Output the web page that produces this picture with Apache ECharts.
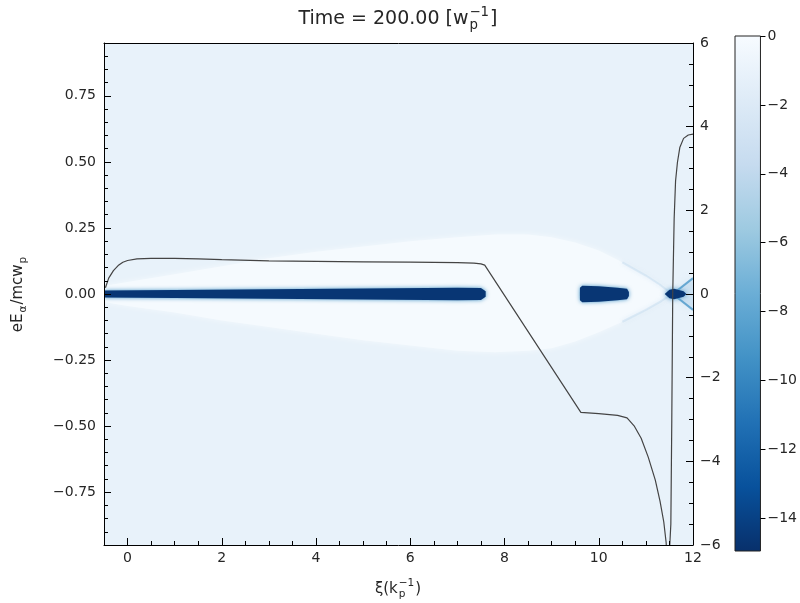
<!DOCTYPE html>
<html><head><meta charset="utf-8">
<script src="https://cdn.jsdelivr.net/npm/echarts@6/dist/echarts.min.js"></script>
<style>html,body{margin:0;padding:0;background:#fff}#c{width:800px;height:603px}</style>
</head><body><div id="c"></div>
<script>
// ---------------- data ----------------
const xTicks = [0, 2, 4, 6, 8, 10, 12];
const xMinorTicks = [0.5,1,1.5,2.5,3,3.5,4.5,5,5.5,6.5,7,7.5,8.5,9,9.5,10.5,11,11.5];
const yLeftTicks = [-0.75,-0.5,-0.25,0,0.25,0.5,0.75];
const yLeftMinor = [-0.9,-0.85,-0.8,-0.7,-0.65,-0.6,-0.55,-0.45,-0.4,-0.35,-0.3,-0.2,-0.15,-0.1,-0.05,0.05,0.1,0.15,0.2,0.3,0.35,0.4,0.45,0.55,0.6,0.65,0.7,0.8,0.85,0.9];
const yRightTicks = [-6,-4,-2,0,2,4,6];
const yRightMinor = [-5.5,-5,-4.5,-3.5,-3,-2.5,-1.5,-1,-0.5,0.5,1,1.5,2.5,3,3.5,4.5,5,5.5];
const cbarTicks = [0,-2,-4,-6,-8,-10,-12,-14];
const xRange = [-0.5, 12];
const yRange = [-0.95, 0.95];
const yRightRange = [-6, 6];
const cRange = [-14.95, 0];

// log-density levels of the phase-space map
const levelBackground = -1.1;
const levelBubble = -0.15;
const levelBeam = -14.6;
const levelArm = -9;
const levelFan = -4;

// bubble (cavity) boundary
const bubbleXi     = [-0.5, 0, 1, 2, 3, 4, 5, 6, 7, 7.8, 8.5, 9, 9.5, 10, 10.5, 11, 11.3, 11.55];
const bubbleTop    = [0.03, 0.045, 0.075, 0.105, 0.135, 0.16, 0.18, 0.2, 0.215, 0.225, 0.225, 0.215, 0.195, 0.165, 0.12, 0.07, 0.035, 0];
const bubbleBottom = [-0.03, -0.045, -0.07, -0.1, -0.125, -0.15, -0.175, -0.195, -0.215, -0.22, -0.215, -0.205, -0.18, -0.145, -0.105, -0.06, -0.03, 0];

// drive beam
const beamXi   = [-0.5, 1, 3, 5, 7, 7.5, 7.6];
const beamHalf = [0.013, 0.015, 0.018, 0.021, 0.024, 0.023, 0.01];
// trailing bunch
const bunchXi   = [9.6, 9.65, 10.0, 10.4, 10.6, 10.64];
const bunchHalf = [0.024, 0.031, 0.029, 0.024, 0.02, 0.008];
// crossing point at the rear of the bubble
const crossXi   = [11.4, 11.5, 11.6, 11.8, 11.86];
const crossHalf = [0.0, 0.016, 0.02, 0.01, 0.0];
const fanXi    = [11.57, 12];
const fanUpper = [0, 0.06];
const fanLower = [0, -0.06];

// on-axis field (right axis)
const lineXi  = [-0.47,-0.4,-0.3,-0.2,-0.1,0,0.2,0.5,1,1.5,2,3,4,5,6,7,7.35,7.5,7.58,9.62,10,10.4,10.6,10.75,10.9,11.05,11.2,11.3,11.38,11.43,11.47,11.51,11.53,11.55,11.57,11.6,11.63,11.67,11.72,11.8,11.9,12];
const lineVal = [0.15,0.38,0.56,0.68,0.76,0.8,0.84,0.85,0.85,0.84,0.82,0.79,0.78,0.77,0.76,0.75,0.74,0.72,0.69,-2.83,-2.86,-2.9,-2.96,-3.15,-3.45,-3.9,-4.45,-4.95,-5.45,-5.94,-6.8,-6.8,-5.5,-3.0,0.0,1.8,2.7,3.15,3.5,3.72,3.8,3.82];

// ---------------- helpers ----------------
const FONT = '"DejaVu Sans", Verdana, sans-serif';
const bluesStops = ['#f7fbff','#deebf7','#c6dbef','#9ecae1','#6baed6','#4292c6','#2171b5','#08519c','#08306b'];
function hex2rgb(h){return [1,3,5].map(i=>parseInt(h.substr(i,2),16));}
function cmap(v, a){
  let t = Math.min(1, Math.max(0, v / cRange[0]));
  const n = bluesStops.length - 1;
  const i = Math.min(n - 1, Math.floor(t * n));
  const f = t * n - i;
  const p = hex2rgb(bluesStops[i]), q = hex2rgb(bluesStops[i + 1]);
  const c = p.map((c0, k) => Math.round(c0 + (q[k] - c0) * f));
  return a === undefined ? 'rgb(' + c.join(',') + ')' : 'rgba(' + c.join(',') + ',' + a + ')';
}
const minus = v => (v < 0 ? '\u2212' : '') + Math.abs(v);
const ctx = document.createElement('canvas').getContext('2d');
function tw(t, s){ ctx.font = s + 'px ' + FONT; return ctx.measureText(t).width; }
function txt(t, x, y, s){ return {type:'text', x:x, y:y, style:{text:t, fontSize:s, fontFamily:FONT, fill:'#262626', align:'left', verticalAlign:'middle'}}; }
function mathLabel(parts, fs){
  const ch = []; let x = 0; const sm = fs * 0.7;
  parts.forEach(p => {
    if (p.t) { ch.push(txt(p.t, x, 0, fs)); x += tw(p.t, fs); }
    if (p.sub || p.sup) {
      let w = 0;
      if (p.sub) { ch.push(txt(p.sub, x + 1, fs * 0.32, sm)); w = Math.max(w, tw(p.sub, sm) + 1); }
      if (p.sup) { ch.push(txt(p.sup, x + 1, -fs * 0.36, sm)); w = Math.max(w, tw(p.sup, sm) + 1); }
      x += w + 1;
    }
  });
  ch.forEach(c => c.x -= x / 2);
  return ch;
}
function bandPoints(api, xs, up, lo){
  const pts = [];
  xs.forEach((x, i) => pts.push(api.coord([x, up[i]])));
  for (let i = xs.length - 1; i >= 0; i--) pts.push(api.coord([xs[i], lo[i]]));
  return pts;
}
const neg = arr => arr.map(v => -v);

// ---------------- chart ----------------
const chart = echarts.init(document.getElementById('c'));
const cbGradient = new echarts.graphic.LinearGradient(0, 0, 0, 1,
  bluesStops.map((c, i) => ({offset: i / (bluesStops.length - 1), color: c})));

const tickLine = {color:'#000', width:1};
const option = {
  animation: false,
  backgroundColor: '#fff',
  grid: [
    {left:104, top:43, width:589, height:502, show:true, backgroundColor:cmap(levelBackground), borderWidth:0},
    {left:735, top:36, width:26, height:515, show:true, backgroundColor:cbGradient, borderColor:'#222', borderWidth:1}
  ],
  xAxis: [
    {type:'value', gridIndex:0, position:'bottom', min:xRange[0], max:xRange[1], z:10,
     axisLine:{show:true, onZero:false, lineStyle:tickLine},
     axisTick:{show:true, inside:true, length:7, customValues:xTicks, lineStyle:tickLine},
     axisLabel:{show:true, customValues:xTicks, margin:6, fontSize:14, fontFamily:FONT, color:'#262626'},
     splitLine:{show:false}},
    {type:'value', gridIndex:0, position:'bottom', min:xRange[0], max:xRange[1], z:10,
     axisLine:{show:false, onZero:false},
     axisTick:{show:true, inside:true, length:4, customValues:xMinorTicks, lineStyle:tickLine},
     axisLabel:{show:false}, splitLine:{show:false}},
    {type:'value', gridIndex:0, position:'top', min:xRange[0], max:xRange[1], z:10,
     axisLine:{show:true, onZero:false, lineStyle:tickLine},
     axisTick:{show:false}, axisLabel:{show:false}, splitLine:{show:false}},
    {type:'value', gridIndex:1, show:false, min:0, max:1}
  ],
  yAxis: [
    {type:'value', gridIndex:0, position:'left', min:yRange[0], max:yRange[1], z:10,
     axisLine:{show:true, onZero:false, lineStyle:tickLine},
     axisTick:{show:true, inside:true, length:7, customValues:yLeftTicks, lineStyle:tickLine},
     axisLabel:{show:true, customValues:yLeftTicks, margin:8, fontSize:14, fontFamily:FONT, color:'#262626',
       formatter: v => (v < 0 ? '\u2212' : '') + Math.abs(v).toFixed(2)},
     splitLine:{show:false}},
    {type:'value', gridIndex:0, position:'left', min:yRange[0], max:yRange[1], z:10,
     axisLine:{show:false, onZero:false},
     axisTick:{show:true, inside:true, length:4, customValues:yLeftMinor, lineStyle:tickLine},
     axisLabel:{show:false}, splitLine:{show:false}},
    {type:'value', gridIndex:0, position:'right', min:yRightRange[0], max:yRightRange[1], z:10,
     axisLine:{show:true, onZero:false, lineStyle:tickLine},
     axisTick:{show:true, inside:true, length:7, customValues:yRightTicks, lineStyle:tickLine},
     axisLabel:{show:true, customValues:yRightTicks, margin:7, fontSize:14, fontFamily:FONT, color:'#262626', formatter:minus},
     splitLine:{show:false}},
    {type:'value', gridIndex:0, position:'right', min:yRightRange[0], max:yRightRange[1], z:10,
     axisLine:{show:false, onZero:false},
     axisTick:{show:true, inside:true, length:4, customValues:yRightMinor, lineStyle:tickLine},
     axisLabel:{show:false}, splitLine:{show:false}},
    {type:'value', gridIndex:1, position:'right', min:cRange[0], max:cRange[1], z:10,
     axisLine:{show:false, onZero:false},
     axisTick:{show:true, inside:false, length:5, customValues:cbarTicks, lineStyle:tickLine},
     axisLabel:{show:true, customValues:cbarTicks, margin:7, fontSize:14, fontFamily:FONT, color:'#262626', formatter:minus},
     splitLine:{show:false}}
  ],
  series: [
    {type:'custom', xAxisIndex:0, yAxisIndex:0, clip:true, silent:true, z:2, data:[[0,0]],
     renderItem: function(params, api){
       const bub = bandPoints(api, bubbleXi, bubbleTop, bubbleBottom);
       const beam = bandPoints(api, beamXi, beamHalf, neg(beamHalf));
       const bunch = bandPoints(api, bunchXi, bunchHalf, neg(bunchHalf));
       const cross = bandPoints(api, crossXi, crossHalf, neg(crossHalf));
       const fan = bandPoints(api, fanXi, fanUpper, fanLower);
       const armStart = 14;
       const armUp = [], armLo = [];
       for (let i = armStart; i < bubbleXi.length; i++) {
         armUp.push(api.coord([bubbleXi[i], bubbleTop[i]]));
         armLo.push(api.coord([bubbleXi[i], bubbleBottom[i]]));
       }
       const fanU = fanXi.map((x, i) => api.coord([x, fanUpper[i]]));
       const fanL = fanXi.map((x, i) => api.coord([x, fanLower[i]]));
       return {type:'group', children:[
         {type:'polygon', shape:{points:bub}, style:{fill:cmap(levelBubble), shadowBlur:6, shadowColor:cmap(levelBubble)}},
         {type:'polyline', shape:{points:armUp}, style:{stroke:cmap(levelFan, 0.45), lineWidth:2, fill:null, shadowBlur:4, shadowColor:cmap(levelFan)}},
         {type:'polyline', shape:{points:armLo}, style:{stroke:cmap(levelFan, 0.45), lineWidth:2, fill:null, shadowBlur:4, shadowColor:cmap(levelFan)}},
         {type:'polygon', shape:{points:fan}, style:{fill:cmap(levelFan, 0.55), shadowBlur:8, shadowColor:cmap(levelFan)}},
         {type:'polyline', shape:{points:fanU}, style:{stroke:cmap(levelArm, 0.8), lineWidth:2, fill:null}},
         {type:'polyline', shape:{points:fanL}, style:{stroke:cmap(levelArm, 0.8), lineWidth:2, fill:null}},
         {type:'polygon', shape:{points:beam}, style:{fill:cmap(levelBeam), shadowBlur:4, shadowColor:cmap(levelArm)}},
         {type:'polygon', shape:{points:bunch}, style:{fill:cmap(levelBeam), shadowBlur:4, shadowColor:cmap(levelArm)}},
         {type:'polygon', shape:{points:cross}, style:{fill:cmap(levelBeam), shadowBlur:5, shadowColor:cmap(levelArm)}}
       ]};
     }},
    {type:'line', xAxisIndex:0, yAxisIndex:2, clip:true, showSymbol:false, symbol:'none', z:5,
     lineStyle:{color:'#444', width:1.2},
     data: lineXi.map((x, i) => [x, lineVal[i]])}
  ],
  graphic: [
    {type:'group', x:398, y:19, children: mathLabel([{t:'Time = 200.00 [w', sub:'p', sup:'\u22121'}, {t:']'}], 19)},
    {type:'group', x:398, y:589, children: mathLabel([{t:'\u03be(k', sub:'p', sup:'\u22121'}, {t:')'}], 15)},
    {type:'group', x:18, y:294, rotation:Math.PI/2, children: mathLabel([{t:'eE', sub:'\u03b1'}, {t:'/mcw', sub:'p'}], 15)}
  ]
};
chart.setOption(option);
</script>
</body></html>
